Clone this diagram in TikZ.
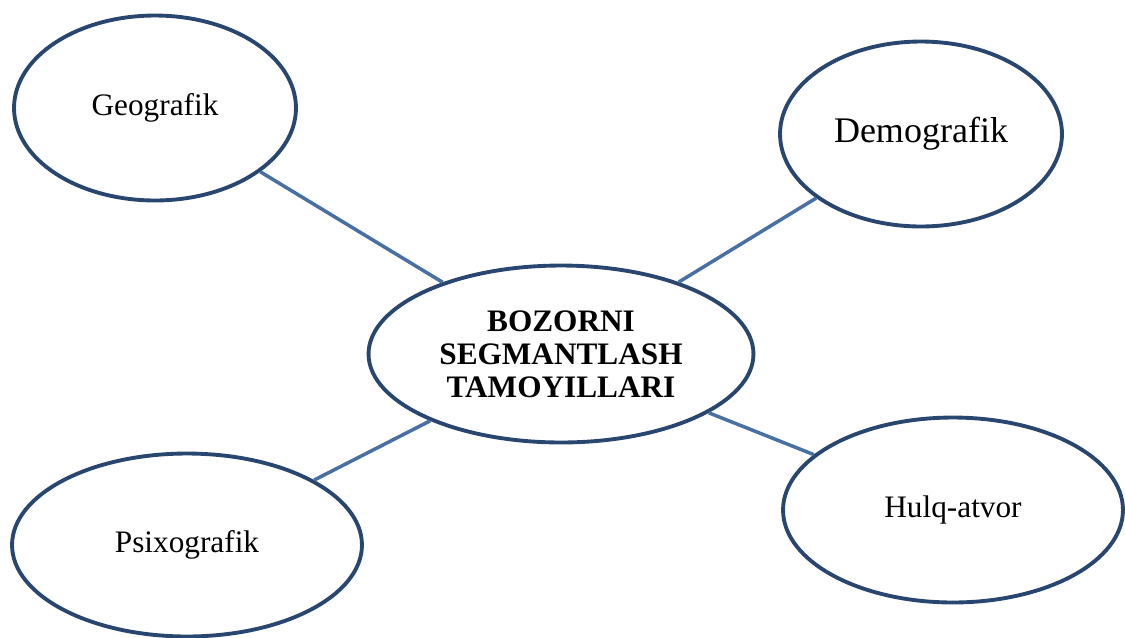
\documentclass[tikz,border=0pt]{standalone}
\usepackage{fontspec}
\setmainfont{Liberation Serif}
\usetikzlibrary{shapes.geometric}
\definecolor{rimblue}{RGB}{40,70,112}
\definecolor{linkblue}{RGB}{72,112,165}
\begin{document}
\begin{tikzpicture}[x=0.02cm,y=-0.02cm,
oval/.style={draw=rimblue, line width=2.2pt, ellipse, inner sep=0pt, fill=white},
link/.style={draw=linkblue, line width=2pt},
txt/.style={font=\fontsize{17.8}{19}\selectfont},
]
\useasboundingbox (0,0) rectangle (1125,637);

\node[oval,txt,minimum width=5.64cm,minimum height=3.7cm] (geo) at (155,108) {Geografik};
\node[oval,minimum width=5.64cm,minimum height=3.7cm,font=\fontsize{20.5}{22}\selectfont] (demo) at (921,134) {Demografik};
\node[oval,minimum width=7.7cm,minimum height=3.54cm,align=center,
font=\fontsize{17.8}{18.8}\selectfont\bfseries] (bozor) at (561,354) {BOZORNI\\SEGMANTLASH\\TAMOYILLARI};
\node[oval,txt,minimum width=7.0cm,minimum height=3.66cm] (psix) at (187,545) {Psixografik};
\node[oval,txt,minimum width=6.8cm,minimum height=3.7cm] (hulq) at (953,510) {Hulq-atvor};

% connections to the centre
\draw[link] (bozor) -- (geo);
\draw[link] (bozor) -- (demo);
\draw[link] (bozor) -- (psix);
\draw[link] (bozor) -- (hulq);
\end{tikzpicture}
\end{document}
